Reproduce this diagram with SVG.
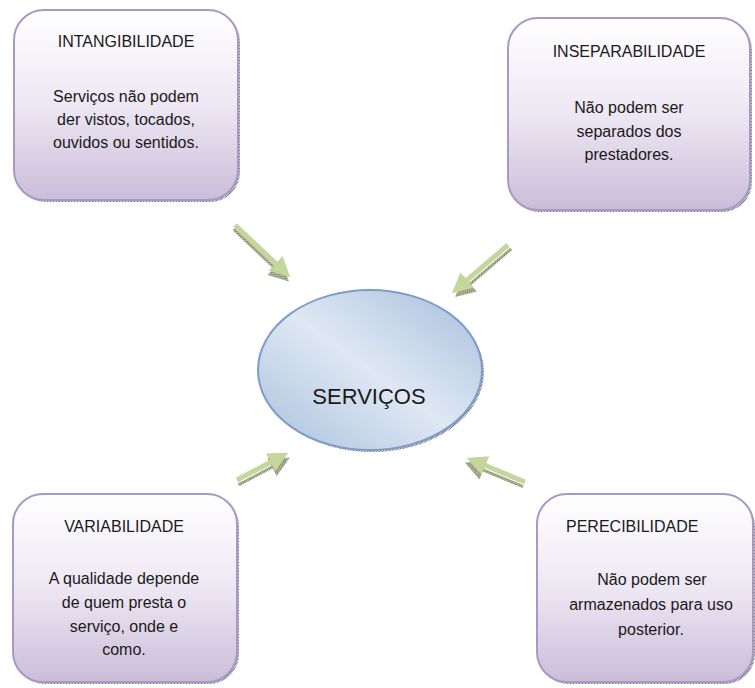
<svg xmlns="http://www.w3.org/2000/svg" width="755" height="688" viewBox="0 0 755 688">
<defs>
<linearGradient id="boxFill" x1="0" y1="0" x2="0" y2="1">
<stop offset="0" stop-color="#ffffff"/>
<stop offset="0.5" stop-color="#ede7f3"/>
<stop offset="1" stop-color="#cbbdd9"/>
</linearGradient>
<linearGradient id="ellFill" x1="1" y1="0" x2="0" y2="1">
<stop offset="0" stop-color="#a6bedd"/>
<stop offset="0.5" stop-color="#dfe8f3"/>
<stop offset="1" stop-color="#a9c0de"/>
</linearGradient>
<pattern id="hatch" width="3" height="3" patternUnits="userSpaceOnUse">
<rect width="3" height="3" fill="#c4c4c4"/>
<path d="M0,3 L3,0" stroke="#808080" stroke-width="1"/>
</pattern>
<pattern id="hatchG" width="3" height="3" patternUnits="userSpaceOnUse">
<rect width="3" height="3" fill="#b3b99c"/>
<path d="M0,3 L3,0" stroke="#7c8268" stroke-width="1"/>
</pattern>
</defs>
<style>
.box{fill:url(#boxFill);stroke:#a898c6;stroke-width:2}
.shadow{fill:url(#hatch)}
.t{font-family:"Liberation Sans",Arial,sans-serif;font-size:16px;fill:#1a1a1a;text-anchor:middle}
.arrow{fill:#c3d69b}
.arrowSh{fill:url(#hatchG)}
</style>
<rect width="755" height="688" fill="#ffffff"/>

<g id="connectors">
<g transform="translate(235,225) rotate(43.4)">
<path class="arrowSh" transform="translate(2,4)" d="M0,-1.5 L56,-1.5 L56,-10 L76,0 L56,10 L56,1.5 L0,1.5 Z"/>
<path class="arrow" d="M0,-2.5 L56,-2.5 L56,-10 L76,0 L56,10 L56,2.5 L0,2.5 Z"/>
</g>
<g transform="translate(508,245) rotate(139.4)">
<path class="arrowSh" transform="translate(0,-5)" d="M0,-1.5 L54,-1.5 L54,-10 L74,0 L54,10 L54,1.5 L0,1.5 Z"/>
<path class="arrow" d="M0,-2.5 L54,-2.5 L54,-10 L74,0 L54,10 L54,2.5 L0,2.5 Z"/>
</g>
<g transform="translate(237,480) rotate(-27.9)">
<path class="arrowSh" transform="translate(-1,5)" d="M0,-1.5 L38,-1.5 L38,-10 L58,0 L38,10 L38,1.5 L0,1.5 Z"/>
<path class="arrow" d="M0,-2.5 L38,-2.5 L38,-10 L58,0 L38,10 L38,2.5 L0,2.5 Z"/>
</g>
<g transform="translate(525,482) rotate(-157.5)">
<path class="arrowSh" transform="translate(0,-5)" d="M0,-1.5 L43,-1.5 L43,-10 L63,0 L43,10 L43,1.5 L0,1.5 Z"/>
<path class="arrow" d="M0,-2.5 L43,-2.5 L43,-10 L63,0 L43,10 L43,2.5 L0,2.5 Z"/>
</g>
</g>

<g id="intangibilidade">
<rect class="shadow" x="16" y="12" width="224" height="190" rx="30"/>
<rect class="box" x="14" y="10" width="224" height="190" rx="30"/>
<text class="t" x="126" y="47">INTANGIBILIDADE</text>
<text class="t" x="126" y="102">Serviços não podem</text>
<text class="t" x="126" y="125">der vistos, tocados,</text>
<text class="t" x="126" y="148">ouvidos ou sentidos.</text>
</g>

<g id="inseparabilidade">
<rect class="shadow" x="510" y="20" width="242" height="192" rx="30"/>
<rect class="box" x="508" y="18" width="242" height="192" rx="30"/>
<text class="t" x="629" y="57">INSEPARABILIDADE</text>
<text class="t" x="629" y="113">Não podem ser</text>
<text class="t" x="629" y="137">separados dos</text>
<text class="t" x="629" y="160">prestadores.</text>
</g>

<g id="servicos">
<ellipse cx="372" cy="372" rx="112" ry="80" fill="url(#hatch)"/>
<ellipse cx="370" cy="370" rx="112" ry="80" fill="url(#ellFill)" stroke="#7d9ccb" stroke-width="2"/>
<text x="369" y="404" style="font-family:'Liberation Sans',Arial,sans-serif;font-size:22px;fill:#1a1a1a;text-anchor:middle">SERVIÇOS</text>
</g>

<g id="variabilidade">
<rect class="shadow" x="15" y="496" width="224" height="188" rx="30"/>
<rect class="box" x="13" y="494" width="224" height="188" rx="30"/>
<text class="t" x="124" y="532">VARIABILIDADE</text>
<text class="t" x="124" y="584">A qualidade depende</text>
<text class="t" x="124" y="608">de quem presta o</text>
<text class="t" x="124" y="632">serviço, onde e</text>
<text class="t" x="124" y="655">como.</text>
</g>

<g id="perecibilidade">
<rect class="shadow" x="539" y="496" width="216" height="188" rx="30"/>
<rect class="box" x="537" y="494" width="216" height="188" rx="30"/>
<text class="t" x="566" y="532" style="text-anchor:start">PERECIBILIDADE</text>
<text class="t" x="652" y="585">Não podem ser</text>
<text class="t" x="651" y="610">armazenados para uso</text>
<text class="t" x="651" y="635">posterior.</text>
</g>
</svg>
